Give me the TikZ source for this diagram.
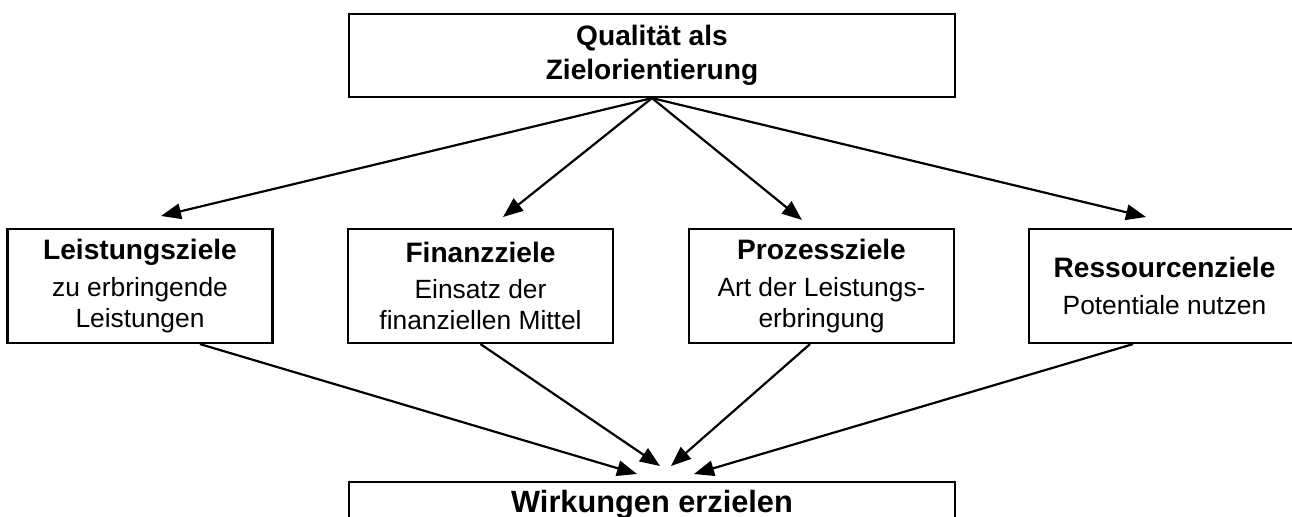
\documentclass[tikz,border=0pt]{standalone}
\usepackage{fontspec}
\setmainfont{Liberation Sans}
\usetikzlibrary{arrows.meta}

\newcommand{\goaltitle}[1]{{\fontsize{16}{19}\selectfont\bfseries #1}\\[3pt]}

\begin{document}
\begin{tikzpicture}[x=0.02cm,y=-0.02cm,->,>={Triangle[length=0.4cm,width=0.31cm]},line width=1.25pt,
  goal/.style={draw,minimum width=5.3cm,minimum height=2.28cm,align=center,inner sep=0pt,
    font=\fontsize{15}{17.6}\selectfont},
  topic/.style={draw,minimum width=12.12cm,minimum height=1.66cm,align=center,inner sep=0pt,
    font=\fontsize{16}{19.5}\selectfont\bfseries}]
  \clip (0,0) rectangle (1292,517);
  \node[topic](quali) at (652,55.5){Qualität als\\Zielorientierung};
  \node[goal](leist) at (140,286){\goaltitle{Leistungsziele}zu erbringende\\Leistungen};
  \node[goal](finanz) at (480.5,286){\goaltitle{Finanzziele}Einsatz der\\finanziellen Mittel};
  \node[goal](prozess) at (821.5,286){\goaltitle{Prozessziele}Art der Leistungs-\\erbringung};
  \node[goal,minimum width=5.42cm](ressource) at (1164.5,286){\goaltitle{Ressourcenziele}Potentiale nutzen};
  \node[topic,anchor=north,minimum height=0pt,inner ysep=0.16cm,font=\fontsize{17.5}{20}\selectfont\bfseries](wirk) at (652,481){Wirkungen erzielen};

  \coordinate (tl) at (161,216);
  \coordinate (tf) at (503,217);
  \coordinate (tp) at (802,220);
  \coordinate (tr) at (1146,217);
  \coordinate (bl) at (637,474);
  \coordinate (bf) at (660,466);
  \coordinate (bp) at (671,466);
  \coordinate (br) at (694,474);

  \path(quali.south) edge (tl);
  \path(quali.south) edge (tf);
  \path(quali.south) edge (tp);
  \path(quali.south) edge (tr);
  \path([xshift=1.2cm]leist.south) edge (bl);
  \path(finanz.south) edge (bf);
  \path([xshift=-0.23cm]prozess.south) edge (bp);
  \path([xshift=-0.63cm]ressource.south) edge (br);
\end{tikzpicture}
\end{document}
